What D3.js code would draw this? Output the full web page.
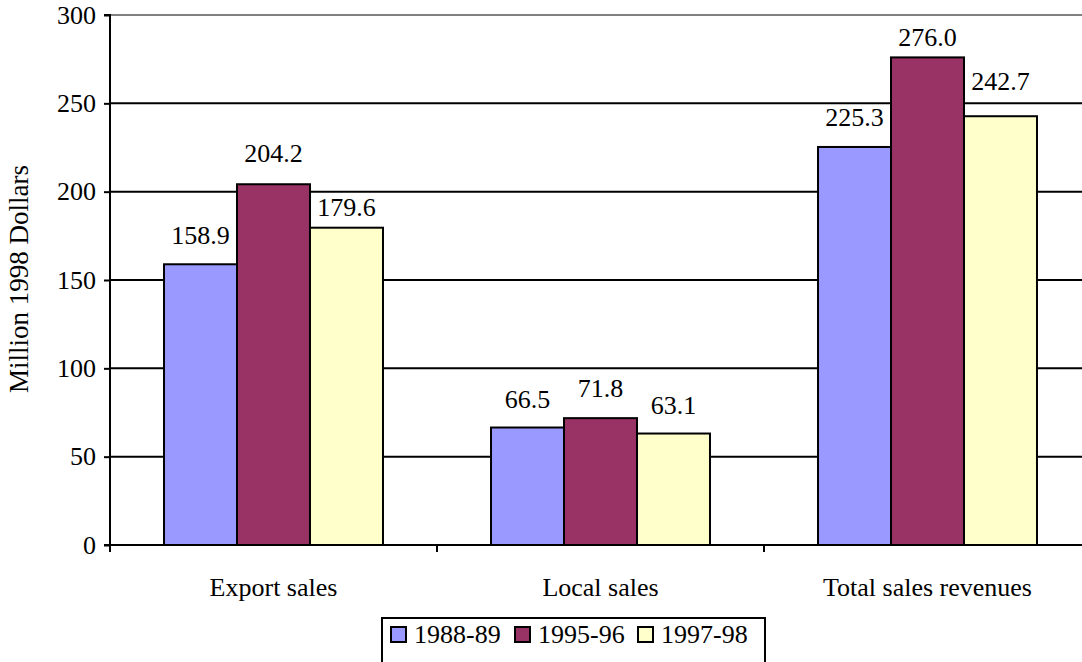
<!DOCTYPE html>
<html>
<head>
  <meta charset="UTF-8">
</head>
<body style="margin:0;background:#fff">
  <script src="https://d3js.org/d3.v7.min.js"></script>
  <script>
    const categories = ['Export sales', 'Local sales', 'Total sales revenues'];
    const seriesNames = ['1988-89', '1995-96', '1997-98'];
    const values1988 = [158.9, 66.5, 225.3];
    const values1995 = [204.2, 71.8, 276.0];
    const values1997 = [179.6, 63.1, 242.7];
    const yTicks = [0, 50, 100, 150, 200, 250, 300];
    const colors = ['#9999ff', '#993366', '#ffffcc'];
    const FONT = 'Times New Roman';

    // the value labels are not all at the same height above the bars, [series][category]
    const labelGapBySeries = [[20, 20, 21], [22, 21, 11], [12, 20, 26]];

    const W = 1082, H = 662;
    const margin = {top:15, left:110};
    const plotW = 981, plotH = 530;

    const series = [values1988, values1995, values1997];

    const svg = d3.select('body').append('svg')
      .attr('width', W).attr('height', H);

    const g = svg.append('g').attr('transform', `translate(${margin.left},${margin.top})`);

    const x0 = d3.scaleBand().domain(categories).range([0, plotW]).paddingInner(0).paddingOuter(0);
    const x1 = d3.scaleBand().domain(seriesNames).range([0, x0.bandwidth()]).paddingInner(0).paddingOuter(0.74);
    const y = d3.scaleLinear().domain([0, 300]).range([plotH, 0]);

    // gridlines
    g.selectAll('.grid').data(yTicks.filter(t => t > 0)).enter().append('line')
      .attr('x1', 0).attr('x2', plotW)
      .attr('y1', d => y(d)).attr('y2', d => y(d))
      .attr('stroke', d => d === 300 ? '#808080' : '#000')
      .attr('stroke-width', 2);

    // bars
    const groups = g.selectAll('.cat').data(categories).enter().append('g')
      .attr('transform', d => `translate(${x0(d)},0)`);

    groups.each(function (cat, ci) {
      const gg = d3.select(this);
      const rows = seriesNames.map((s, si) => ({s, si, v: series[si][ci]}));
      gg.selectAll('rect').data(rows).enter().append('rect')
        .attr('x', d => x1(d.s))
        .attr('y', d => y(d.v))
        .attr('width', x1.bandwidth())
        .attr('height', d => plotH - y(d.v))
        .attr('fill', d => colors[d.si])
        .attr('stroke', '#000')
        .attr('stroke-width', 2);
      gg.selectAll('text').data(rows).enter().append('text')
        .attr('x', d => x1(d.s) + x1.bandwidth() / 2)
        .attr('y', d => y(d.v) - labelGapBySeries[d.si][ci])
        .attr('text-anchor', 'middle')
        .attr('font-size', '26px')
        .attr('font-family', FONT)
        .text(d => d.v.toFixed(1));
    });

    // y axis
    const yAxis = d3.axisLeft(y).tickValues(yTicks).tickSize(6).tickPadding(8);
    const ya = g.append('g').call(yAxis).attr('font-family', FONT);
    ya.select('.domain').attr('stroke-width', 2).attr('d', `M-6,0H0V${plotH}H-6`);
    ya.selectAll('.tick line').attr('stroke-width', 2);
    ya.selectAll('.tick text').attr('font-size', '26px').attr('font-family', FONT).attr('fill', '#000');

    // x axis
    g.append('line').attr('x1', 0).attr('x2', plotW).attr('y1', plotH).attr('y2', plotH)
      .attr('stroke', '#000').attr('stroke-width', 2);
    const bounds = categories.map(c => x0(c));
    g.selectAll('.xtick').data(bounds).enter().append('line')
      .attr('x1', d => d).attr('x2', d => d)
      .attr('y1', plotH).attr('y2', plotH + 7)
      .attr('stroke', '#000').attr('stroke-width', 2);
    g.selectAll('.xlab').data(categories).enter().append('text')
      .attr('x', d => x0(d) + x0.bandwidth() / 2)
      .attr('y', plotH + 51)
      .attr('text-anchor', 'middle')
      .attr('font-size', '26px')
      .attr('font-family', FONT)
      .text(d => d);

    // y title
    svg.append('text')
      .attr('transform', 'translate(28,279) rotate(-90)')
      .attr('text-anchor', 'middle')
      .attr('font-size', '27px')
      .attr('font-family', FONT)
      .text('Million 1998 Dollars');

    // legend
    const lg = svg.append('g').attr('transform', 'translate(382,618)');
    lg.append('rect').attr('x', 0).attr('y', 0).attr('width', 383).attr('height', 48)
      .attr('fill', '#fff').attr('stroke', '#000').attr('stroke-width', 2);
    const legX = [9, 133, 256];
    seriesNames.forEach((s, i) => {
      lg.append('rect').attr('x', legX[i]).attr('y', 9).attr('width', 15).attr('height', 15)
        .attr('fill', colors[i]).attr('stroke', '#000').attr('stroke-width', 2);
      lg.append('text').attr('x', legX[i] + 23).attr('y', 25)
        .attr('font-size', '26px').attr('font-family', FONT).text(s);
    });
  </script>
</body>
</html>
